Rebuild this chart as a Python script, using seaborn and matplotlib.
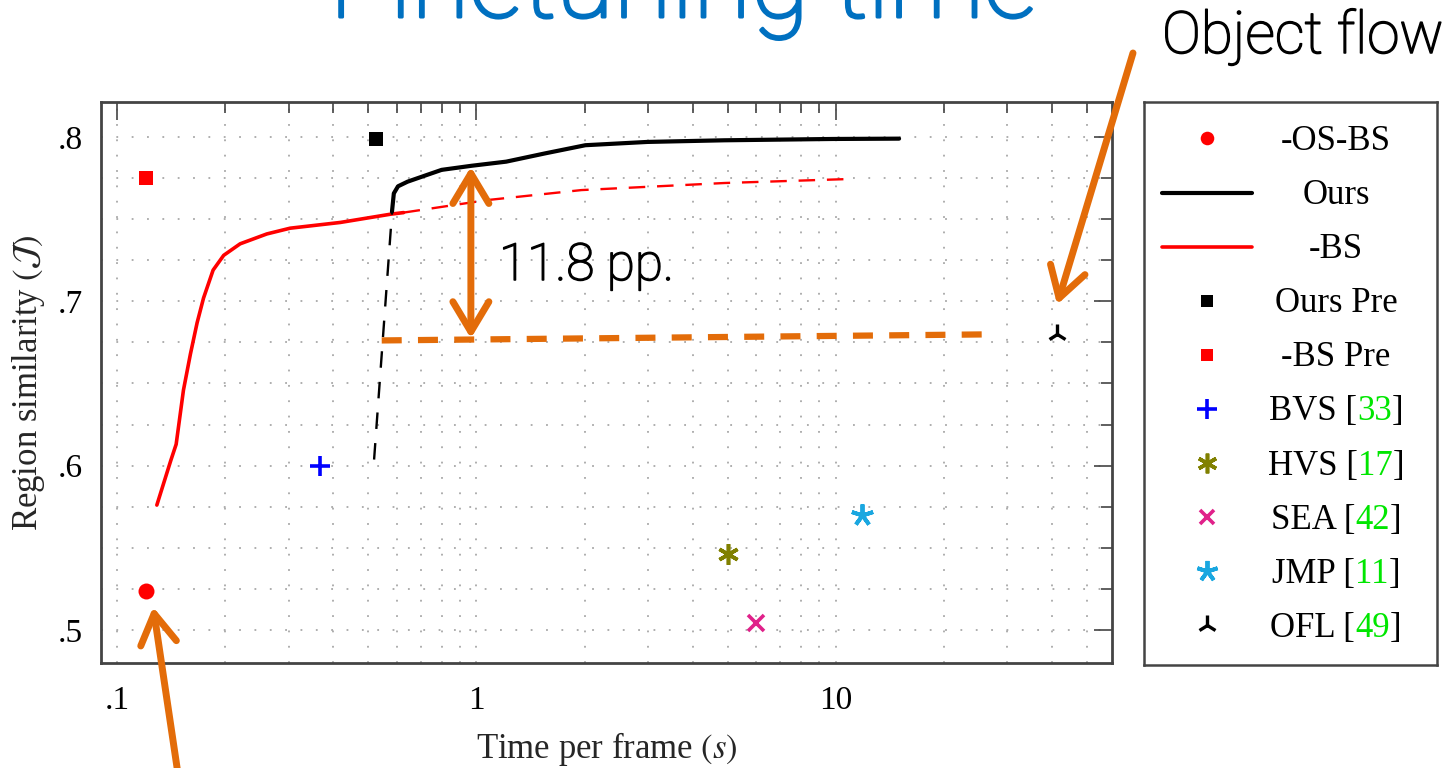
import matplotlib
matplotlib.use("Agg")
import matplotlib.pyplot as plt
import matplotlib.ticker as mticker
import matplotlib.patheffects as pe
import seaborn as sns

# ---------------- data ----------------
bs_x = [0.129, 0.141, 0.146, 0.153, 0.160, 0.167, 0.174, 0.185, 0.198, 0.220, 0.261, 0.303, 0.418, 0.576, 0.627]
bs_y = [0.576, 0.603, 0.613, 0.646, 0.668, 0.687, 0.702, 0.719, 0.728, 0.735, 0.741, 0.7445, 0.748, 0.753, 0.754]

bs_ext_x = [0.627, 1.07, 1.96, 4.9, 10.8]
bs_ext_y = [0.754, 0.7616, 0.7677, 0.772, 0.7744]

ours_x = [0.582, 0.589, 0.605, 0.643, 0.73, 0.80, 0.97, 1.21, 1.55, 2.01, 2.99, 4.9, 9.8, 15.0]
ours_y = [0.7545, 0.7657, 0.770, 0.7728, 0.777, 0.780, 0.7825, 0.785, 0.790, 0.795, 0.797, 0.798, 0.7988, 0.799]

ours_init_x = [0.519, 0.582]
ours_init_y = [0.6037, 0.7537]

point_names = ["-OS-BS", "Ours Pre", "-BS Pre", "BVS", "HVS", "SEA", "JMP", "OFL"]
point_x = [0.120, 0.524, 0.120, 0.367, 5.0, 5.98, 11.8, 41.3]
point_y = [0.524, 0.799, 0.775, 0.600, 0.546, 0.504, 0.570, 0.680]

gap_line_x = [0.545, 26.8]
gap_line_y = [0.6762, 0.6799]
gap_arrow_x = 0.965
gap_arrow_y = [0.7819, 0.6774]
gap_text = "11.8 pp."

x_ticks = [0.1, 1, 10]
x_ticklabels = [".1", "1", "10"]
y_ticks = [0.5, 0.6, 0.7, 0.8]
y_ticklabels = [".5", ".6", ".7", ".8"]

legend_labels = [
    [("-OS-BS", None)],
    [("Ours", None)],
    [("-BS", None)],
    [("Ours Pre", None)],
    [("-BS Pre", None)],
    [("BVS [", None), ("33", "g"), ("]", None)],
    [("HVS [", None), ("17", "g"), ("]", None)],
    [("SEA [", None), ("42", "g"), ("]", None)],
    [("JMP [", None), ("11", "g"), ("]", None)],
    [("OFL [", None), ("49", "g"), ("]", None)],
]

title_text = "Finetuning time"
callout_text = "Object flow"

# ---------------- styles ----------------
RED = "#ff0000"
ORANGE = "#e36c09"
BLUE_T = "#0070c0"
GREEN = "#00e600"
styles = {
    "-OS-BS": dict(marker="o", color=RED, ms=11.5, mew=0),
    "Ours Pre": dict(marker="s", color="black", ms=10, mew=0),
    "-BS Pre": dict(marker="s", color=RED, ms=10, mew=0),
    "BVS": dict(marker="+", color="#0000ff", ms=15, mew=2.6),
    "HVS": dict(marker=(6, 2, 0), color="#808000", ms=15, mew=2.6),
    "SEA": dict(marker="x", color="#e0218a", ms=11, mew=2.6),
    "JMP": dict(marker=(5, 2, 0), color="#1aa7e0", ms=16, mew=2.8),
    "OFL": dict(marker="2", color="black", ms=15, mew=2.4),
}

sns.set_theme(style="white")
plt.rcParams["font.family"] = ["Liberation Serif", "DejaVu Serif"]
plt.rcParams["mathtext.fontset"] = "stix"

W, H = 1452, 768
fig = plt.figure(figsize=(W / 100, H / 100), dpi=100)
fig.patch.set_facecolor("white")


def fx(px):
    return px / W


def fy(py):
    return 1 - py / H


ax = fig.add_axes([fx(101), fy(663), fx(1112) - fx(101), fy(102) - fy(663)])
ax.set_xscale("log")
ax.set_xlim(0.0902, 58.7)
ax.set_ylim(0.4799, 0.8213)

# grid
ax.grid(which="both", axis="both", linestyle=(0, (1, 7.5)), color="#a8a8a8", lw=1.3)
ax.set_axisbelow(True)

# curves
sns.lineplot(x=bs_x, y=bs_y, ax=ax, color=RED, lw=2.6, sort=False, estimator=None)
sns.lineplot(x=bs_ext_x, y=bs_ext_y, ax=ax, color=RED, lw=1.7, sort=False,
             estimator=None, linestyle=(0, (7, 5)))
sns.lineplot(x=ours_init_x, y=ours_init_y, ax=ax, color="black", lw=1.7, sort=False,
             estimator=None, linestyle=(0, (7, 6)))
sns.lineplot(x=ours_x, y=ours_y, ax=ax, color="black", lw=3.0, sort=False, estimator=None)

# single points
for name, px, py in zip(point_names, point_x, point_y):
    st = styles[name]
    ax.plot([px], [py], linestyle="none", marker=st["marker"], color=st["color"],
            ms=st["ms"], mew=st["mew"], clip_on=False, zorder=5)

# ticks
ax.xaxis.set_major_locator(mticker.FixedLocator(x_ticks))
ax.xaxis.set_major_formatter(mticker.FixedFormatter(x_ticklabels))
ax.xaxis.set_minor_locator(mticker.LogLocator(base=10, subs=[2, 3, 4, 5, 6, 7, 8, 9], numticks=20))
ax.xaxis.set_minor_formatter(mticker.NullFormatter())
ax.yaxis.set_major_locator(mticker.FixedLocator(y_ticks))
ax.yaxis.set_major_formatter(mticker.FixedFormatter(y_ticklabels))
ax.yaxis.set_minor_locator(mticker.MultipleLocator(0.025))
ax.tick_params(which="both", direction="in", top=True, right=True, colors="#444444",
               labelcolor="black", width=1.2)
ax.tick_params(which="major", length=13, labelsize=24)
ax.tick_params(axis="x", which="major", pad=16)
ax.tick_params(axis="y", which="major", pad=13)
ax.tick_params(which="minor", length=8)
for sp in ax.spines.values():
    sp.set_color("#444444")
    sp.set_linewidth(2)

ax.set_xlabel(r"Time per frame $(s)$", fontsize=25, labelpad=10)
ax.set_ylabel(r"Region similarity $(\mathcal{J})$", fontsize=25, labelpad=8)

# orange annotations
ax.plot(gap_line_x, gap_line_y, color=ORANGE, lw=4.5, linestyle=(0, (3.2, 2.6)), zorder=6)
ax.annotate("", xy=(gap_arrow_x, gap_arrow_y[0]), xytext=(gap_arrow_x, gap_arrow_y[1]),
            arrowprops=dict(arrowstyle="<->,head_length=0.6,head_width=0.36",
                            color=ORANGE, lw=5, shrinkA=0, shrinkB=0,
                            mutation_scale=36), zorder=7)
ax.annotate("", xy=(point_x[7], point_y[7] + 0.018), xytext=(1133, H - 53),
            textcoords="figure pixels",
            arrowprops=dict(arrowstyle="->,head_length=0.6,head_width=0.36",
                            color=ORANGE, lw=5, shrinkA=0, shrinkB=0,
                            mutation_scale=36), annotation_clip=False, zorder=7)
ax.annotate("", xy=(point_x[0] * 1.05, point_y[0] - 0.010), xytext=(178, -6),
            textcoords="figure pixels",
            arrowprops=dict(arrowstyle="->,head_length=0.6,head_width=0.36",
                            color=ORANGE, lw=5, shrinkA=0, shrinkB=0,
                            mutation_scale=36), annotation_clip=False, zorder=7)

SANS = ["Roboto", "Lato", "DejaVu Sans"]
fig.text(fx(499), fy(280), gap_text, family=SANS, weight="light", fontsize=37,
         color="black", va="baseline", ha="left",
         path_effects=[pe.withStroke(linewidth=1.1, foreground="black")])
fig.text(fx(683), fy(17), title_text, family=SANS, weight="light", fontsize=76,
         color=BLUE_T, va="baseline", ha="center",
         path_effects=[pe.withStroke(linewidth=2.2, foreground=BLUE_T)])
fig.text(fx(1162), fy(53), callout_text, family=SANS, weight="light", fontsize=42,
         color="black", va="baseline", ha="left",
         path_effects=[pe.withStroke(linewidth=1.1, foreground="black")])

# ---------------- legend box (manual, centred labels) ----------------
lx0, lx1, ly0, ly1 = 1144, 1437, 102, 665
lax = fig.add_axes([fx(lx0), fy(ly1), fx(lx1) - fx(lx0), fy(ly0) - fy(ly1)])
lax.set_xlim(lx0, lx1)
lax.set_ylim(ly1, ly0)
lax.set_xticks([])
lax.set_yticks([])
lax.set_facecolor("white")
for sp in lax.spines.values():
    sp.set_color("#444444")
    sp.set_linewidth(1.8)

legend_keys = ["-OS-BS", "Ours", "-BS", "Ours Pre", "-BS Pre", "BVS", "HVS", "SEA", "JMP", "OFL"]
row_texts = []
for i, (key, parts) in enumerate(zip(legend_keys, legend_labels)):
    yc = 138.5 + 54.1 * i
    if key == "Ours":
        lax.plot([1162, 1252], [yc, yc], color="black", lw=3.0)
    elif key == "-BS":
        lax.plot([1162, 1252], [yc, yc], color=RED, lw=2.6)
    else:
        st = styles[key]
        ms = st["ms"] * (0.85 if key in ("-OS-BS", "Ours Pre", "-BS Pre") else 0.95)
        lax.plot([1207], [yc], linestyle="none", marker=st["marker"], color=st["color"],
                 ms=ms, mew=st["mew"])
    texts = []
    for s, c in parts:
        t = lax.text(0, yc + 11.5, s, fontsize=25, va="baseline", ha="left",
                     color=GREEN if c == "g" else "black")
        texts.append(t)
    row_texts.append(texts)

fig.canvas.draw()
renderer = fig.canvas.get_renderer()
for texts in row_texts:
    widths = [t.get_window_extent(renderer).width for t in texts]
    x = 1336 - sum(widths) / 2
    for t, w in zip(texts, widths):
        t.set_x(x)
        x += w

fig.savefig("out.png", dpi=100, facecolor="white")
